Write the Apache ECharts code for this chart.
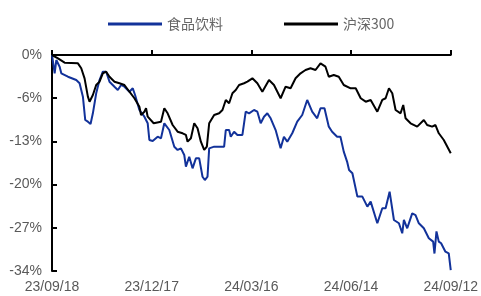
<!DOCTYPE html>
<html>
<head>
<meta charset="utf-8">
<script src="https://cdn.jsdelivr.net/npm/echarts@6/dist/echarts.min.js"></script>
<style>
  html, body { margin: 0; padding: 0; background: #fff; }
  #chart { width: 481px; height: 296px; }
</style>
</head>
<body>
<div id="chart"></div>
<script>
// day offsets from 23/09/18, cumulative return in %
const xTickLabels = ['23/09/18', '23/12/17', '24/03/16', '24/06/14', '24/09/12'];
const yTickLabels = ['0%', '-6%', '-13%', '-20%', '-27%', '-34%'];

const foodDays = [0, 2.4, 3.9, 6.9, 8.4, 14.4, 21.9, 24.9, 27.9, 30, 32.4, 34.8, 36.9, 39.9, 42.9, 45.9, 48.9, 51.9, 56.4, 59.4, 62.4, 65.4, 69.9, 72.9, 75, 78.9, 83.4, 86.4, 87.9, 90.9, 95.4, 98.4, 101.4, 105.9, 110.4, 113.4, 116.4, 119.4, 120.9, 123.9, 126.9, 129.9, 132.9, 135.9, 138, 140.4, 141.9, 146.4, 155.4, 156.9, 159.9, 161.4, 164.4, 167.4, 171.9, 174.9, 177.9, 179.4, 182.4, 185.4, 188.4, 191.4, 194.4, 197.4, 201.9, 206.4, 209.4, 212.4, 216.9, 221.4, 225.9, 230.4, 234.9, 239.4, 242.4, 246, 249.9, 252.9, 257.4, 260.4, 263.4, 266.4, 268.2, 271.2, 275.7, 280.2, 284.7, 287.7, 293.7, 298.2, 301.2, 304.8, 308.7, 313.2, 316.2, 317.7, 320.7, 325.2, 328.2, 331.2, 335.7, 340.2, 344.1, 345.3, 347.1, 349.2, 351.3, 355.2, 358.2, 360];
const foodVals = [0, -2.88, -0.79, -1.84, -2.88, -3.42, -3.94, -4.45, -6.56, -10.23, -10.5, -10.86, -9.18, -6.03, -3.94, -2.63, -2.63, -4.2, -4.99, -5.51, -4.72, -4.99, -5.78, -5.24, -6.3, -8.66, -9.71, -10.75, -13.38, -13.53, -12.86, -13.11, -10.75, -11.81, -14.43, -14.95, -14.69, -15.74, -17.58, -16.01, -17.84, -16.27, -16.27, -19.16, -19.68, -19.16, -14.69, -14.43, -14.43, -11.81, -11.81, -12.86, -12.07, -12.59, -12.59, -8.92, -9.18, -9.44, -8.66, -8.92, -10.75, -9.71, -9.18, -9.96, -11.81, -14.69, -12.86, -13.64, -12.32, -10.5, -9.44, -7.08, -8.92, -9.96, -8.39, -8.39, -11.28, -12.07, -12.86, -12.86, -15.21, -16.78, -18.09, -18.61, -22.29, -22.29, -23.86, -23.08, -26.49, -24.13, -24.13, -21.51, -25.97, -26.49, -28.06, -25.97, -27.28, -24.92, -25.19, -26.49, -27.28, -28.85, -29.38, -31.25, -27.76, -29.38, -29.64, -30.96, -31.22, -33.85];

const hs300Days = [0, 5.4, 11.4, 23.4, 24.9, 26.4, 29.4, 32.4, 33.9, 36.9, 39.9, 42.9, 45.9, 48.9, 51.9, 56.4, 60.9, 65.4, 69.9, 74.4, 78.9, 80.4, 83.4, 84.9, 86.4, 91.8, 98.4, 101.4, 104.4, 108.9, 113.4, 117.9, 120.9, 122.4, 125.4, 128.4, 131.4, 134.4, 137.4, 139.8, 141.9, 146.4, 150.9, 153.9, 156.9, 159.9, 162.9, 165.9, 168.9, 173.4, 176.4, 180.9, 185.4, 189.9, 195.9, 200.4, 206.4, 210.9, 215.4, 219.9, 224.4, 228.9, 233.4, 237.9, 242.4, 246.9, 249.9, 254.4, 258.9, 263.4, 269.6, 274.2, 278.7, 283.2, 287.7, 293.7, 298.2, 301.2, 304.2, 307.2, 310.2, 314.7, 317.1, 319.2, 323.7, 329.7, 335.7, 338.7, 343.2, 346.2, 349.2, 353.7, 360];
const hs300Vals = [0, -0.52, -1.21, -1.31, -1.05, -2.09, -3.67, -6.56, -7.35, -6.3, -4.72, -4.2, -2.88, -2.63, -3.42, -4.2, -4.45, -4.72, -5.78, -6.81, -8.14, -9.44, -8.92, -8.39, -9.71, -10.75, -10.5, -8.39, -9.18, -11.02, -12.07, -12.32, -12.59, -13.64, -13.11, -10.75, -11.54, -13.64, -14.95, -14.43, -10.75, -9.44, -9.18, -8.66, -7.08, -7.6, -6.03, -5.51, -4.72, -4.45, -4.2, -3.67, -4.45, -5.78, -3.94, -4.72, -6.81, -4.99, -5.24, -3.67, -2.88, -2.36, -2.09, -2.36, -1.31, -1.84, -3.42, -3.15, -3.42, -4.72, -5.24, -5.24, -6.81, -7.35, -7.08, -8.92, -7.08, -6.81, -5.24, -6.03, -8.66, -9.18, -7.87, -9.96, -10.75, -11.28, -10.23, -11.02, -11.28, -11.02, -12.32, -13.38, -15.47];

const pairs = (xs, ys) => xs.map((x, i) => [x, ys[i]]);
const labelColor = '#595959';

const chart = echarts.init(document.getElementById('chart'));
chart.setOption({
  animation: false,
  legend: {
    top: 12,
    left: 103,
    icon: 'rect',
    itemWidth: 54,
    itemHeight: 3,
    itemGap: 61,
    textStyle: { color: '#666', fontSize: 14, fontFamily: 'Noto Sans CJK SC' },
    data: ['食品饮料', '沪深300']
  },
  grid: { left: 52, right: 29, top: 55, bottom: 25, containLabel: false },
  xAxis: {
    type: 'value',
    min: 0,
    max: 360,
    interval: 90,
    splitLine: { show: false },
    axisLine: { lineStyle: { color: '#000', width: 2 } },
    axisTick: { inside: true, length: 5, lineStyle: { color: '#000', width: 2 } },
    axisLabel: {
      color: labelColor,
      fontSize: 14,
      fontFamily: 'Liberation Sans',
      margin: 9,
      formatter: v => xTickLabels[Math.round(v / 90)] || ''
    }
  },
  yAxis: {
    type: 'value',
    min: -34,
    max: 0,
    interval: 6.8,
    splitLine: { show: false },
    axisLine: { show: true, lineStyle: { color: '#000', width: 2 } },
    axisTick: { show: true, inside: true, length: 5, lineStyle: { color: '#000', width: 2 } },
    axisLabel: {
      color: labelColor,
      fontSize: 14,
      fontFamily: 'Liberation Sans',
      margin: 10,
      formatter: v => yTickLabels[Math.round(-v / 6.8)] || ''
    }
  },
  series: [
    {
      name: '食品饮料',
      type: 'line',
      showSymbol: false,
      color: '#12329A',
      lineStyle: { width: 2, color: '#12329A' },
      data: pairs(foodDays, foodVals)
    },
    {
      name: '沪深300',
      type: 'line',
      showSymbol: false,
      color: '#000',
      lineStyle: { width: 2, color: '#000' },
      data: pairs(hs300Days, hs300Vals)
    }
  ]
});
</script>
</body>
</html>
